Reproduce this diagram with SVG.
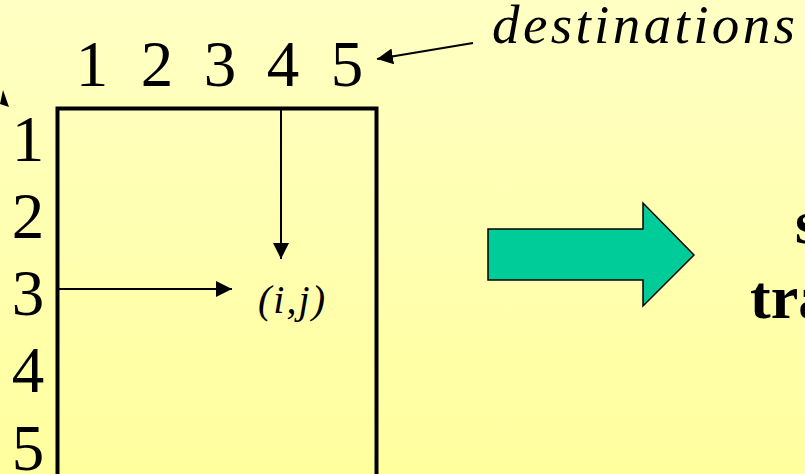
<svg xmlns="http://www.w3.org/2000/svg" width="805" height="474" viewBox="0 0 805 474">
<defs>
<linearGradient id="bg" x1="0" y1="0" x2="0" y2="1">
<stop offset="0" stop-color="#FFFFC4"/>
<stop offset="1" stop-color="#FFFF9E"/>
</linearGradient>
<marker id="ah" viewBox="0 0 16 16" refX="16" refY="8" markerWidth="16" markerHeight="16" markerUnits="userSpaceOnUse" orient="auto">
<path d="M0,0 L16,8 L0,16 Z" fill="#000"/>
</marker>
<style>
.num{font-family:"Liberation Serif","Times New Roman",serif;font-size:65px;fill:#000;text-anchor:middle}
.it{font-family:"Liberation Serif","Times New Roman",serif;font-style:italic;fill:#000}
.bold{font-family:"Liberation Serif","Times New Roman",serif;font-weight:bold;font-size:62px;fill:#000}
.ln{stroke:#000;stroke-width:2;fill:none}
</style>
</defs>
<rect width="805" height="474" fill="url(#bg)"/>
<g id="matrix">
<rect x="57.5" y="108.5" width="319" height="400" fill="none" stroke="#000" stroke-width="4"/>
</g>
<g id="col-labels">
<text class="num" x="92" y="86">1</text>
<text class="num" x="157" y="86">2</text>
<text class="num" x="220" y="86">3</text>
<text class="num" x="283" y="86">4</text>
<text class="num" x="347" y="86">5</text>
</g>
<g id="row-labels">
<text class="num" x="28" y="161">1</text>
<text class="num" x="28" y="238">2</text>
<text class="num" x="28" y="315">3</text>
<text class="num" x="28" y="392">4</text>
<text class="num" x="28" y="470">5</text>
</g>
<g id="cell">
<text class="it" x="258" y="313" font-size="40" textLength="67" lengthAdjust="spacing">(i,j)</text>
</g>
<g id="destinations">
<text class="it" x="492" y="43" font-size="55" textLength="303" lengthAdjust="spacing">destinations</text>
</g>
<g id="big-arrow">
<path d="M488,229 L643,229 L643,203 L694,255 L643,306 L643,280 L488,280 Z" fill="#00CC99" stroke="#000" stroke-width="1.5"/>
</g>
<g id="right-text">
<text class="bold" x="795" y="243">s</text>
<text class="bold" x="750" y="318">tra</text>
</g>
<g id="connectors">
<line class="ln" x1="281" y1="110" x2="281" y2="259" marker-end="url(#ah)"/>
<line class="ln" x1="59" y1="289" x2="232" y2="289" marker-end="url(#ah)"/>
<line class="ln" x1="473" y1="43" x2="377" y2="59" marker-end="url(#ah)"/>
<path d="M3,90 L0,104 L9,107 Z" fill="#000"/>
</g>
</svg>
